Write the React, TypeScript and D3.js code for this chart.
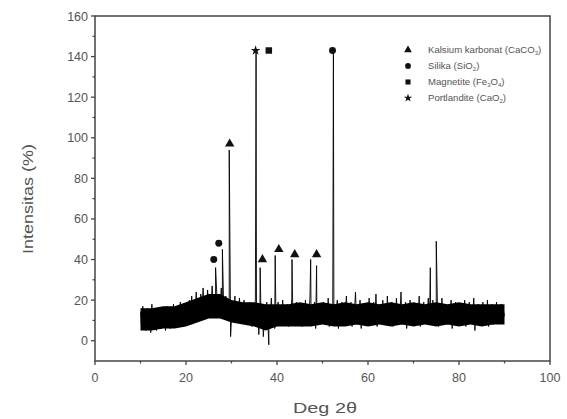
import React from "react";
import * as d3 from "d3";

// Background (noise) intensity, every 0.25 deg from 10 to 90
const noiseStart = 10;
const noiseStep = 0.25;
const noise: number[] = [
  14,6,17,8,13,5,16,9,12,4,18,7,14,10,5,15,8,13,6,16,
  9,14,5,17,8,12,6,15,10,18,7,13,9,16,8,19,11,14,8,17,
  10,18,12,20,11,22,13,19,15,24,12,21,16,23,14,26,15,20,17,25,
  14,22,18,27,15,21,19,24,13,23,17,26,16,20,14,22,12,19,15,21,
  11,18,14,22,10,17,13,21,9,16,12,20,15,8,18,11,19,13,7,17,
  12,20,10,16,3,14,9,18,2,13,11,19,8,15,12,21,10,17,6,14,
  13,19,9,16,11,20,8,15,12,18,7,14,10,21,9,16,13,19,8,15,
  11,18,7,14,12,20,9,16,10,22,8,15,13,19,6,17,11,18,9,14,
  12,19,8,16,10,21,7,15,11,18,9,14,13,20,6,16,10,19,8,15,
  12,22,9,16,11,19,7,14,13,24,8,17,10,20,6,15,12,18,9,16,
  11,21,8,15,13,19,10,23,7,16,12,18,9,20,11,15,8,22,10,17,
  13,19,7,16,11,21,9,15,12,24,8,17,10,19,6,14,13,20,9,16,
  11,18,8,15,12,22,7,17,10,19,9,14,13,21,8,16,11,20,10,18,
  12,19,7,16,11,21,9,15,13,18,8,17,10,20,6,14,12,19,9,16,
  11,18,8,15,13,20,7,16,10,19,9,14,12,21,5,15,11,18,8,17,
  12,19,9,16,10,20,7,15,13,18,8,14,11,19,9,16,12,18,10,15,12,
];

// Dense core of the noise band (read as envelope), every 2.5 deg
const bandX: number[] = [10,12.5,15,17.5,20,22.5,25,27.5,30,32.5,35,37.5,40,42.5,45,47.5,50,52.5,55,57.5,60,62.5,65,67.5,70,72.5,75,77.5,80,82.5,85,87.5,90];
const bandLow: number[] = [5,5,6,6,7,9,11,11,9,8,7,5,7,7,7,7,8,7,7,8,7,8,7,8,7,8,7,8,7,8,7,8,8];
const bandHigh: number[] = [16,16,17,17,19,21,23,23,20,19,19,18,18,18,19,18,19,18,19,18,19,18,19,18,19,18,19,18,19,18,18,18,18];

// Sharp reflections (x in deg 2θ, intensity %)
const spikeX: number[] = [26.5, 28.0, 29.5, 29.8, 35.4, 36.3, 38.2, 39.6, 43.3, 47.4, 48.7, 52.4, 73.7, 75.0];
const spikeY: number[] = [36, 45, 94, 2, 143, 36, -2, 42, 40, 40, 37, 142, 36, 49];

// Phase markers
const markerX: number[] = [26.1, 27.2, 29.6, 35.3, 38.2, 36.8, 40.4, 43.9, 48.7, 52.2];
const markerY: number[] = [40, 48, 97, 143, 143, 40, 45, 42.5, 42.5, 143];
const markerType: string[] = ["circle", "circle", "triangle", "star", "square", "triangle", "triangle", "triangle", "triangle", "circle"];

const legendTypes: string[] = ["triangle", "circle", "square", "star"];
const legendNames: string[] = ["Kalsium karbonat (CaCO", "Silika (SiO", "Magnetite (Fe", "Portlandite (CaO"];
const legendSubs: string[][] = [["3"], ["2"], ["3", "4"], ["2"]];
const legendMids: string[] = ["", "", "O", ""];

const xTicks: number[] = [0, 20, 40, 60, 80, 100];
const yTicks: number[] = [0, 20, 40, 60, 80, 100, 120, 140, 160];

const W = 567, H = 419;
const M = { left: 95, right: 550, top: 16, bottom: 361 };

function symbolPath(type: string, size: number) {
  const t =
    type === "circle" ? d3.symbolCircle :
    type === "triangle" ? d3.symbolTriangle :
    type === "square" ? d3.symbolSquare : d3.symbolStar;
  return d3.symbol().type(t).size(size)() as string;
}

export default function App() {
  const x = d3.scaleLinear().domain([0, 100]).range([M.left, M.right]);
  const y = d3.scaleLinear().domain([-10, 160]).range([M.bottom, M.top]);

  const pts: [number, number][] = noise.map((v, i) => [noiseStart + i * noiseStep, v]);
  spikeX.forEach((sx, i) => pts.push([sx, spikeY[i]]));
  pts.sort((a, b) => a[0] - b[0]);

  const line = d3.line<[number, number]>().x((d) => x(d[0])).y((d) => y(d[1]));
  const band = d3.area<number>()
    .x((_, i) => x(bandX[i]))
    .y0((_, i) => y(bandLow[i]))
    .y1((_, i) => y(bandHigh[i]));

  const font = "'Liberation Sans', Arial, sans-serif";
  const axisCol = "#444";
  const textCol = "#555";

  const xMinor = d3.range(10, 100, 20);
  const yMinor = d3.range(-10, 160, 20).filter((v) => v > -10);

  return (
    <svg width={W} height={H} style={{ position: "absolute", left: 0, top: 0, background: "#fff" }}>
      <rect x={0} y={0} width={W} height={H} fill="#fff" />
      <path d={band(bandX) as string} fill="#000" />
      <path d={line(pts) as string} fill="none" stroke="#000" strokeWidth={0.9} />

      {markerX.map((mx, i) => (
        <path
          key={i}
          transform={`translate(${x(mx)},${y(markerY[i])})`}
          d={symbolPath(markerType[i], markerType[i] === "star" ? 30 : markerType[i] === "square" ? 42 : 38)}
          fill="#111"
        />
      ))}

      {/* frame */}
      <rect x={M.left} y={M.top} width={M.right - M.left} height={M.bottom - M.top} fill="none" stroke={axisCol} strokeWidth={1.5} />

      {/* x ticks */}
      {xTicks.map((t) => (
        <g key={"x" + t}>
          <line x1={x(t)} x2={x(t)} y1={M.bottom} y2={M.bottom + 4} stroke={axisCol} strokeWidth={1.3} />
          <text x={x(t)} y={M.bottom + 21} textAnchor="middle" fontFamily={font} fontSize={12.5} fill={textCol}>{t}</text>
        </g>
      ))}
      {xMinor.map((t) => (
        <line key={"xm" + t} x1={x(t)} x2={x(t)} y1={M.bottom} y2={M.bottom + 2.5} stroke={axisCol} strokeWidth={1.2} />
      ))}

      {/* y ticks */}
      {yTicks.map((t) => (
        <g key={"y" + t}>
          <line x1={M.left - 4} x2={M.left} y1={y(t)} y2={y(t)} stroke={axisCol} strokeWidth={1.3} />
          <text x={M.left - 7} y={y(t)} dy="0.36em" textAnchor="end" fontFamily={font} fontSize={12.5} fill={textCol}>{t}</text>
        </g>
      ))}
      {yMinor.map((t) => (
        <line key={"ym" + t} x1={M.left - 2.5} x2={M.left} y1={y(t)} y2={y(t)} stroke={axisCol} strokeWidth={1.2} />
      ))}

      {/* axis titles */}
      <text x={325} y={413} textAnchor="middle" fontFamily={font} fontSize={15} fill={textCol} textLength={64} lengthAdjust="spacingAndGlyphs">Deg 2θ</text>
      <text transform="translate(33,199) rotate(-90)" textAnchor="middle" fontFamily={font} fontSize={14} fill={textCol} textLength={110} lengthAdjust="spacingAndGlyphs">Intensitas (%)</text>

      {/* legend */}
      {legendTypes.map((lt, i) => {
        const ly = 50 + i * 16;
        const subs = legendSubs[i];
        return (
          <g key={"l" + i}>
            <path transform={`translate(408,${ly})`} d={symbolPath(lt, lt === "star" ? 22 : 26)} fill="#111" />
            <text x={428} y={ly} dy="0.35em" fontFamily={font} fontSize={9.6} fill={textCol}>
              {legendNames[i]}
              <tspan fontSize={6} dy={2}>{subs[0]}</tspan>
              {subs.length > 1 ? (
                <>
                  <tspan dy={-2}>{legendMids[i]}</tspan>
                  <tspan fontSize={6} dy={2}>{subs[1]}</tspan>
                </>
              ) : null}
              <tspan dy={-2}>)</tspan>
            </text>
          </g>
        );
      })}
    </svg>
  );
}
